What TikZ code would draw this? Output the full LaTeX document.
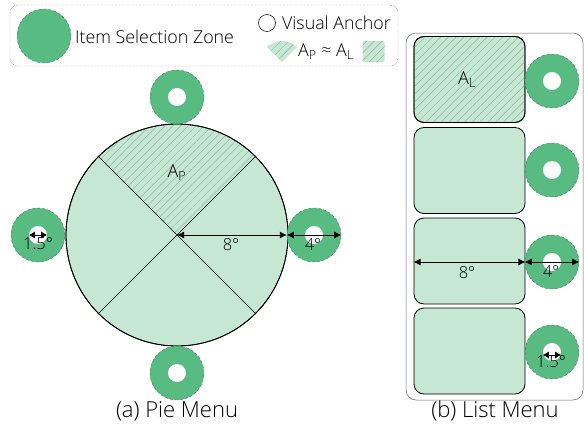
\documentclass[tikz,border=0pt]{standalone}
\usepackage{fontspec}
\setmainfont{Open Sans Light}
\usetikzlibrary{arrows.meta,patterns.meta}
\definecolor{zone}{RGB}{88,187,129}
\definecolor{zoneedge}{RGB}{60,130,90}
\definecolor{item}{RGB}{198,231,211}
\definecolor{hatch}{RGB}{150,180,160}
\begin{document}
\begin{tikzpicture}[x=1pt,y=-1pt,
  zonec/.style={circle,fill=zone,draw=zoneedge,densely dashed,line width=0.4pt,minimum size=54pt,inner sep=0pt},
  anchorc/.style={circle,fill=white,minimum size=18pt,inner sep=0pt},
  itembox/.style={draw=black,line width=0.8pt,fill=item,rounded corners=10pt,minimum width=111pt,minimum height=86pt,inner sep=0pt},
  hatchp/.style={pattern={Lines[angle=45,distance=5.5pt,line width=0.5pt]},pattern color=hatch},
  dim/.style={{Latex[length=7pt,width=7pt]}-{Latex[length=7pt,width=7pt]},line width=0.8pt},
  lbl/.style={font=\fontsize{16.5}{18}\selectfont,inner sep=0pt},
  legtxt/.style={font=\fontsize{17.8}{20}\selectfont,anchor=west,inner sep=0pt},
  captxt/.style={font=\fontsize{22}{24}\selectfont,inner sep=0pt}]
\useasboundingbox (0,0) rectangle (584,431);
% legend
\node[draw=black!70,densely dotted,rounded corners=8pt,minimum width=388pt,minimum height=61pt,inner sep=0pt] (legend) at (204,35.5) {};
\node[zonec] (lz) at (44,36) {};
\node[legtxt] (lzt) at (75,37) {Item Selection Zone};
\node[circle,draw=black,line width=0.5pt,fill=white,minimum size=17pt,inner sep=0pt] (la) at (267,23) {};
\node[legtxt] (lat) at (282,23) {Visual Anchor};
\coordinate (wedge) at (282,62);
\fill[item] (wedge) -- ++(-135:21) arc[start angle=-135,end angle=-45,radius=21] -- cycle;
\fill[hatchp] (wedge) -- ++(-135:21) arc[start angle=-135,end angle=-45,radius=21] -- cycle;
\node[legtxt] (eq) at (298,52) {A\textsubscript{P} ≈ A\textsubscript{L}};
\node[fill=item,rounded corners=2pt,minimum width=22pt,minimum height=21pt,inner sep=0pt] (lsq) at (373.5,51.5) {};
\fill[hatchp,rounded corners=2pt] (362.5,41) rectangle (384.5,62);
% pie menu
\node[circle,draw=black,line width=0.8pt,fill=item,minimum size=222pt,inner sep=0pt] (pie) at (177,235) {};
\fill[hatchp] (pie.center) -- (pie.45) arc[start angle=-45,end angle=-135,radius=111] -- cycle;
\draw[line width=0.6pt] (pie.45) -- (pie.225) (pie.135) -- (pie.315);
\draw[line width=0.8pt] (pie) circle[radius=111];
\node[lbl,font=\fontsize{18}{20}\selectfont] (ap) at (177,173) {A\textsubscript{P}};
\node[zonec] (ztop) at (177,97) {};
\node[anchorc] at (ztop) {};
\node[zonec] (zbot) at (177,373) {};
\node[anchorc] at (zbot) {};
\node[zonec] (zleft) at (38,235) {};
\node[anchorc] (aleft) at (zleft) {};
\node[zonec] (zright) at (314,235) {};
\node[anchorc] (aright) at (zright) {};
\draw[dim] (pie.center) -- (zright.west);
\draw[dim] (zright.west) -- (zright.east);
\node[lbl] at (231,245) {8°};
\node[lbl] at (313,245) {4°};
\draw[dim,{Latex[length=6pt,width=7pt]}-{Latex[length=6pt,width=7pt]}] (aleft.west) -- (aleft.east);
\node[lbl] at (38,244) {1.5°};
\node[captxt] (capa) at (177,411) {(a) Pie Menu};
% list menu
\node[draw=black!60,line width=0.5pt,rounded corners=10pt,minimum width=177pt,minimum height=367pt,inner sep=0pt] (listbox) at (494.5,216.5) {};
\node[itembox] (i1) at (469.5,79.5) {};
\fill[hatchp,rounded corners=10pt] (414,36.5) rectangle (525,122.5);
\draw[line width=0.8pt,rounded corners=10pt] (414,36.5) rectangle (525,122.5);
\node[lbl,font=\fontsize{18}{20}\selectfont] (al) at (467,80) {A\textsubscript{L}};
\node[itembox] (i2) at (469.5,170.5) {};
\node[itembox] (i3) at (469.5,261) {};
\node[itembox] (i4) at (469.5,351) {};
\node[zonec] (z1) at (552,81) {};
\node[anchorc] at (z1) {};
\node[zonec] (z2) at (552,170) {};
\node[anchorc] at (z2) {};
\node[zonec] (z3) at (552,262) {};
\node[anchorc] at (z3) {};
\node[zonec] (z4) at (552,352) {};
\node[anchorc] (a4) at (z4) {};
\draw[dim] (i3.west |- z3) -- (i3.east |- z3);
\draw[dim] (z3.west) -- (z3.east);
\node[lbl] at (467,273) {8°};
\node[lbl] at (551,272) {4°};
\draw[dim,{Latex[length=6pt,width=7pt]}-{Latex[length=6pt,width=7pt]}] ([yshift=-3pt]a4.west) -- ([yshift=-3pt]a4.east);
\node[lbl] at (551,362) {1.5°};
\node[captxt] (capb) at (495,411) {(b) List Menu};
\end{tikzpicture}
\end{document}
